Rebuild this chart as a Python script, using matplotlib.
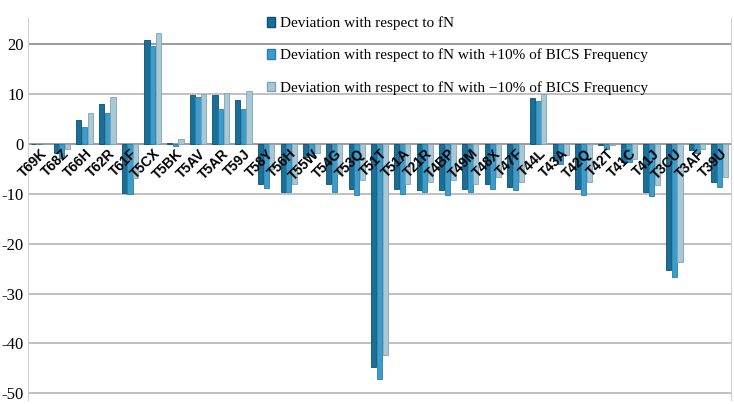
import numpy as np
import matplotlib
matplotlib.use("Agg")
import matplotlib.pyplot as plt
from matplotlib.patches import Patch

plt.rcParams["axes.unicode_minus"] = False

labels = ["T69K", "T68Z", "T66H", "T62R", "T61F", "T5CX", "T5BK", "T5AV", "T5AR", "T59J",
          "T58Y", "T56H", "T55W", "T54G", "T53Q", "T51T", "T51A", "T21R", "T4BP", "T49M",
          "T48X", "T47F", "T44L", "T43A", "T42Q", "T42T", "T41C", "T41J", "T3CU", "T3AF", "T39U"]

dev_fn = [0.0, -1.9, 4.8, 8.0, -9.9, 20.8, 0.1, 9.7, 9.7, 8.8,
          -8.0, -9.7, -2.7, -8.0, -9.0, -44.8, -9.0, -9.3, -9.3, -9.0,
          -8.0, -8.7, 9.2, -3.3, -9.0, -0.3, -3.7, -9.7, -25.2, -1.3, -7.7]
dev_plus10 = [0.0, -2.8, 3.3, 6.1, -10.0, 19.5, -0.5, 9.3, 7.0, 7.0,
              -8.8, -9.7, -2.3, -9.7, -10.3, -47.2, -10.0, -9.7, -10.3, -9.7,
              -9.0, -9.3, 8.5, -4.0, -10.3, -1.0, -3.7, -10.5, -26.7, -1.9, -8.7]
dev_minus10 = [0.0, -1.0, 6.1, 9.3, -6.8, 22.1, 0.9, 9.9, 10.1, 10.5,
               -5.0, -8.0, -1.8, -6.0, -7.3, -42.4, -8.0, -7.7, -7.3, -8.0,
               -6.7, -7.7, 9.9, -2.3, -7.7, -0.2, -3.0, -8.3, -23.7, -1.1, -6.7]

series_names = ["Deviation with respect to fN",
                "Deviation with respect to fN with +10% of BICS Frequency",
                "Deviation with respect to fN with \u221210% of BICS Frequency"]
colors = ["#1a6f99", "#3c9dcb", "#a9c8d6"]
edges = ["#0d4f70", "#2a7ea8", "#7fa4b6"]

fig = plt.figure(figsize=(7.34, 4.04), dpi=100)
ax = fig.add_axes([0.038, 0.01, 0.958, 0.945])

x = np.arange(len(labels))
w = 0.25
for k, vals in enumerate([dev_fn, dev_plus10, dev_minus10]):
    ax.bar(x + (k - 1) * w, vals, width=w * 0.9, color=colors[k],
           edgecolor=edges[k], linewidth=0.6, zorder=3)

ax.set_xlim(-0.5, len(labels) - 0.5)
ax.set_ylim(-51.3, 25.1)
ax.set_yticks([20, 10, 0, -10, -20, -30, -40, -50])
ax.set_yticklabels(["20", "10", "0", "-10", "-20", "-30", "-40", "-50"],
                   fontfamily="Liberation Serif", fontsize=12)
ax.tick_params(axis="y", length=0, pad=3)
ax.set_xticks([])
for t in [20, 10, 0, -10, -20, -30, -40, -50]:
    c = "#8a8a8a" if t in (20, 0) else "#b5b5b5"
    ax.axhline(t, color=c, lw=1.2, zorder=1)

for s in ["top", "bottom"]:
    ax.spines[s].set_visible(False)
for s in ["left", "right"]:
    ax.spines[s].set_color("#d0d0d0")

for i, lab in enumerate(labels):
    ax.text(i + 0.02, -0.6, lab, rotation=45, ha="right", va="top",
            rotation_mode="anchor", fontsize=10, fontweight="bold",
            fontfamily="Liberation Sans", zorder=5)

handles = [Patch(facecolor=colors[k], edgecolor=edges[k]) for k in range(3)]
fig.legend(handles, series_names, loc="upper left", bbox_to_anchor=(0.345, 0.993),
           frameon=False, prop={"family": "Liberation Serif", "size": 11},
           handlelength=0.55, handleheight=0.55, handletextpad=0.3, labelspacing=1.2)

fig.savefig("out.png", dpi=100)
